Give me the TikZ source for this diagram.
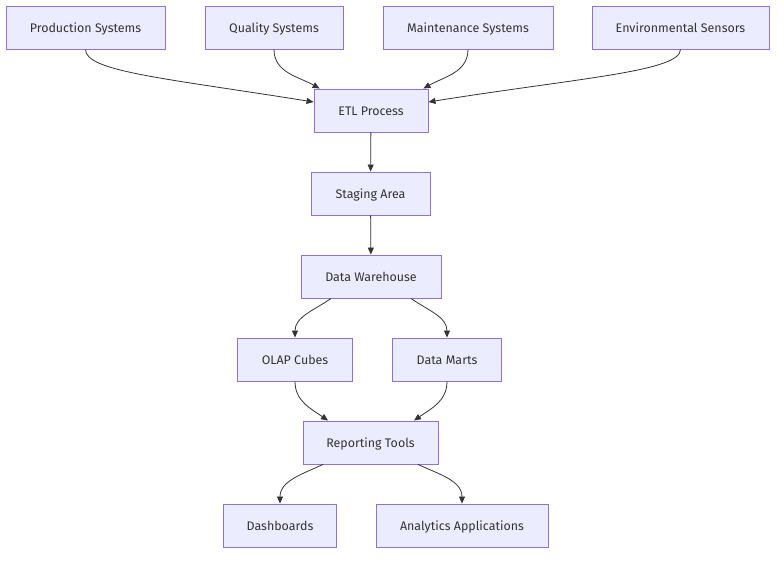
\documentclass[tikz,border=0pt]{standalone}
\usepackage{fontspec}
\setmainfont{Fira Sans}
\usetikzlibrary{arrows.meta}

\definecolor{boxfill}{HTML}{ECECFF}
\definecolor{boxline}{HTML}{9370DB}
\definecolor{ink}{HTML}{333333}

\begin{document}
\begin{tikzpicture}[x=1bp, y=-1bp,
    box/.style={draw=boxline, fill=boxfill, line width=0.9bp, minimum height=43bp,
      inner sep=0pt, text height=12bp, text depth=1.5bp, text=ink,
      font=\fontsize{12.5}{15}\selectfont},
    link/.style={draw=ink, line width=0.8bp, -{Triangle[length=7bp, width=6bp]}}]
  \useasboundingbox (0,0) rectangle (784,561);

  % sources
  \node[box, minimum width=159bp] (prod) at (85.5,27.5) {Production Systems};
  \node[box, minimum width=138bp] (qual) at (274,27.5) {Quality Systems};
  \node[box, minimum width=170bp] (maint) at (468,27.5) {Maintenance Systems};
  \node[box, minimum width=177bp] (env) at (680.5,27.5) {Environmental Sensors};

  % pipeline
  \node[box, minimum width=114bp] (etl) at (371,110.5) {ETL Process};
  \node[box, minimum width=119bp] (stage) at (370.5,193.5) {Staging Area};
  \node[box, minimum width=140bp] (dwh) at (371,276.5) {Data Warehouse};
  \node[box, minimum width=115bp] (olap) at (295,359.5) {OLAP Cubes};
  \node[box, minimum width=109bp] (marts) at (447,359.5) {Data Marts};
  \node[box, minimum width=135bp] (report) at (370.5,442.5) {Reporting Tools};
  \node[box, minimum width=113bp] (dash) at (280,525.5) {Dashboards};
  \node[box, minimum width=172bp] (apps) at (462,525.5) {Analytics Applications};

  \draw[link] (prod.south) .. controls +(0,-22bp) and +(-150bp,24bp) .. ([yshift=8.5bp]etl.west);
  \draw[link] (qual.south) to[out=-90, in=150] ([xshift=6bp]etl.north west);
  \draw[link] (maint.south) to[out=-90, in=30] ([xshift=-5bp]etl.north east);
  \draw[link] (env.south) .. controls +(0,-22bp) and +(150bp,24bp) .. ([yshift=8.5bp]etl.east);

  \draw[link] (etl) -- (stage);
  \draw[link] (stage) -- (dwh);

  \draw[link] ([xshift=-40bp]dwh.south) to[out=-145, in=90] (olap.north);
  \draw[link] ([xshift=40bp]dwh.south) to[out=-35, in=90] (marts.north);
  \draw[link] (olap.south) to[out=-90, in=145] ([xshift=-42.5bp]report.north);
  \draw[link] (marts.south) to[out=-90, in=35] ([xshift=43.5bp]report.north);
  \draw[link] ([xshift=-47.5bp]report.south) to[out=-155, in=90] (dash.north);
  \draw[link] ([xshift=47.5bp]report.south) to[out=-25, in=90] (apps.north);
\end{tikzpicture}
\end{document}
